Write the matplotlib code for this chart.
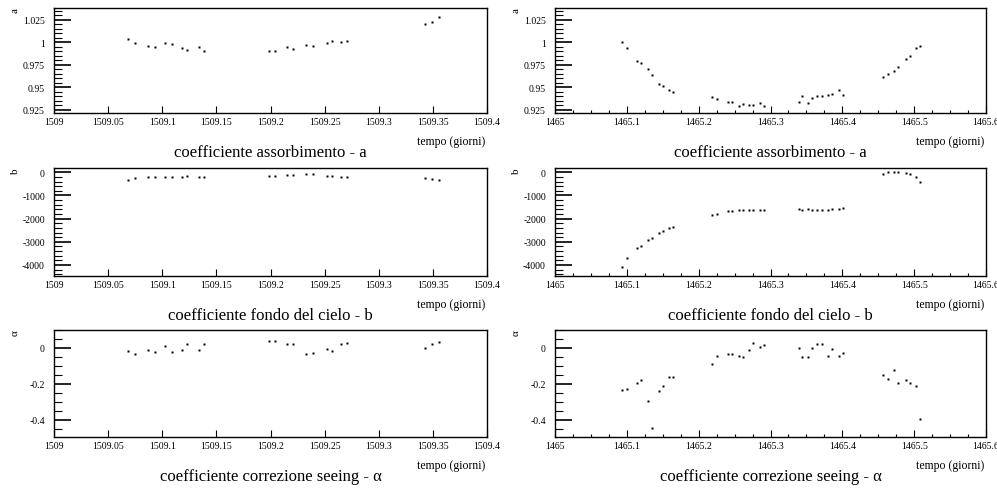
import numpy as np
import matplotlib
matplotlib.use("Agg")
import matplotlib.pyplot as plt
from matplotlib.ticker import MultipleLocator, FuncFormatter, NullLocator

plt.rcParams['font.family'] = ['Liberation Serif', 'DejaVu Serif']
plt.rcParams['axes.formatter.useoffset'] = False

# --- data ---
t_left = [1509.0688, 1509.0747, 1509.087, 1509.093, 1509.103, 1509.109, 1509.118,
          1509.123, 1509.134, 1509.139, 1509.1985, 1509.204, 1509.215, 1509.221,
          1509.233, 1509.239, 1509.252, 1509.257, 1509.265, 1509.271, 1509.343,
          1509.349, 1509.356]
a_left = [1.004, 0.9989, 0.9963, 0.9949, 0.9993, 0.9985, 0.9934, 0.9912, 0.9945,
          0.9897, 0.9901, 0.9901, 0.9941, 0.9926, 0.9971, 0.9956, 0.9993, 1.0011,
          1.0004, 1.0011, 1.0206, 1.0228, 1.0279]
b_left = [-335, -247, -218, -218, -204, -204, -189, -160, -204, -204, -175, -175,
          -116, -116, -73, -87, -160, -175, -204, -204, -262, -291, -349]
alpha_left = [-0.019, -0.033, -0.013, -0.022, 0.013, -0.022, -0.011, 0.024, -0.013,
              0.024, 0.041, 0.039, 0.020, 0.024, -0.032, -0.026, -0.004, -0.015,
              0.022, 0.026, -0.002, 0.020, 0.032]

t_right = [1465.0937, 1465.0997, 1465.1145, 1465.120, 1465.129, 1465.135, 1465.145,
           1465.151, 1465.159, 1465.164, 1465.219, 1465.225, 1465.241, 1465.247,
           1465.256, 1465.262, 1465.270, 1465.275, 1465.285, 1465.291, 1465.339,
           1465.344, 1465.352, 1465.358, 1465.365, 1465.371, 1465.380, 1465.386,
           1465.395, 1465.401, 1465.457, 1465.463, 1465.472, 1465.478, 1465.488,
           1465.494, 1465.502, 1465.508]
a_right = [1.0007, 0.9930, 0.979, 0.9768, 0.970, 0.964, 0.953, 0.951, 0.9467, 0.9449,
           0.9386, 0.9364, 0.933, 0.934, 0.929, 0.9313, 0.9305, 0.9305, 0.932, 0.9294,
           0.933, 0.940, 0.9324, 0.938, 0.940, 0.940, 0.941, 0.942, 0.947, 0.941,
           0.9618, 0.9647, 0.968, 0.972, 0.981, 0.985, 0.993, 0.9956]
b_right = [-4087, -3695, -3287, -3171, -2924, -2822, -2604, -2531, -2415, -2342,
           -1847, -1789, -1687, -1687, -1644, -1644, -1629, -1629, -1629, -1629,
           -1585, -1615, -1585, -1615, -1629, -1629, -1629, -1600, -1585, -1527,
           -87, 0, 0, 0, -44, -73, -189, -436]
alpha_right = [-0.236, -0.227, -0.193, -0.179, -0.294, -0.448, -0.238, -0.210, -0.164,
               -0.164, -0.089, -0.047, -0.033, -0.033, -0.043, -0.050, -0.013, 0.028,
               0.007, 0.015, 0.0, -0.048, -0.048, 0.0, 0.024, 0.022, -0.047, -0.004,
               -0.047, -0.026, -0.151, -0.173, -0.123, -0.195, -0.179, -0.193, -0.214,
               -0.394]

row_labels = ['a', 'b', '\u03b1']
titles = ['coefficiente assorbimento - a', 'coefficiente fondo del cielo - b',
          'coefficiente correzione seeing - \u03b1']
xlabel = 'tempo (giorni)'

W, H = 997, 489
fig = plt.figure(figsize=(W / 100, H / 100), dpi=100)

cols = [(54, 487), (555, 986)]
rows = [(9, 114), (169, 277), (331, 438)]
ylims = [(0.9213, 1.038), (-4476, 186), (-0.497, 0.1)]
ymajor = [0.025, 1000, 0.2]
yminor = [0.005, 200, 0.05]
xlims = [(1509, 1509.4), (1465, 1465.6)]
xmajor = [0.05, 0.1]

series = [[(t_left, a_left), (t_left, b_left), (t_left, alpha_left)],
          [(t_right, a_right), (t_right, b_right), (t_right, alpha_right)]]

fmt = FuncFormatter(lambda v, p: '%g' % round(v, 6))

for c, (x0, x1) in enumerate(cols):
    for r, (y0, y1) in enumerate(rows):
        ax = fig.add_axes([x0 / W, 1 - y1 / H, (x1 - x0) / W, (y1 - y0) / H])
        x, y = series[c][r]
        ax.plot(x, y, 's', ms=1.6, mec='none', color='black')
        ax.set_xlim(*xlims[c])
        ax.set_ylim(*ylims[r])
        for s in ax.spines.values():
            s.set_linewidth(1.0)
        ax.xaxis.set_major_locator(MultipleLocator(xmajor[c]))
        if c == 1:
            ax.xaxis.set_minor_locator(MultipleLocator(0.025))
        else:
            ax.xaxis.set_minor_locator(NullLocator())
        ax.yaxis.set_major_locator(MultipleLocator(ymajor[r]))
        ax.yaxis.set_minor_locator(MultipleLocator(yminor[r]))
        ax.xaxis.set_major_formatter(fmt)
        ax.yaxis.set_major_formatter(fmt)
        ax.tick_params(axis='x', which='major', direction='in', length=5, width=0.8,
                       labelsize=7, pad=3, top=False)
        ax.tick_params(axis='x', which='minor', direction='in', length=2.4, width=0.8,
                       top=False)
        ax.tick_params(axis='y', which='major', direction='in', length=12, width=1.2,
                       labelsize=7, pad=6.5, right=False)
        ax.tick_params(axis='y', which='minor', direction='in', length=6, width=0.8,
                       right=False)

        xc = (x0 + x1) / 2
        fig.text((x1 - 2) / W, 1 - (y1 + 28) / H, xlabel, ha='right', va='center',
                 fontsize=8.5)
        fig.text(xc / W, 1 - (y1 + 39) / H, titles[r], ha='center', va='center',
                 fontsize=12)
        fig.text((x0 - 39) / W, 1 - (y0 - 1) / H, row_labels[r], ha='center',
                 va='top', rotation=90, fontsize=8)

fig.savefig('out.png', dpi=100)
